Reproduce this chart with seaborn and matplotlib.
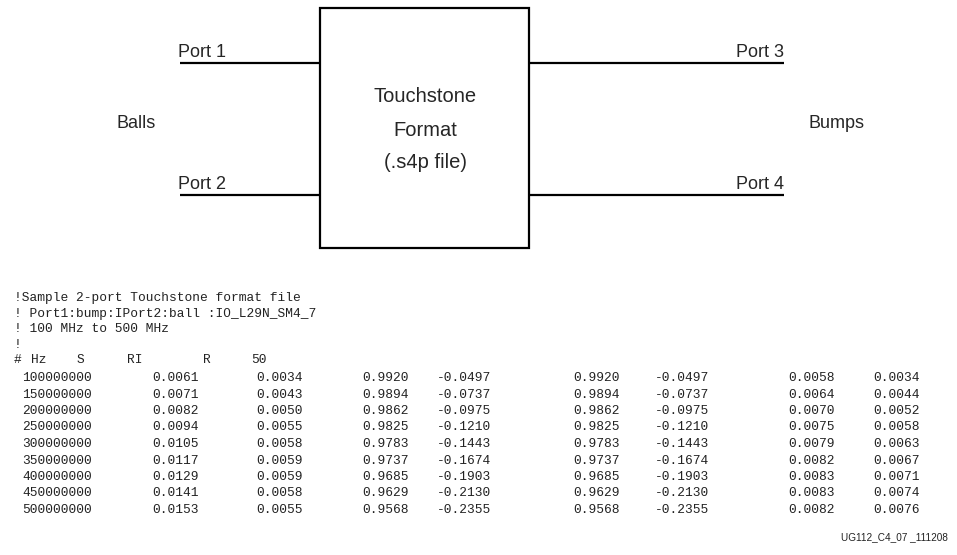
import numpy as np
import pandas as pd
import seaborn as sns
import matplotlib.pyplot as plt
from matplotlib.patches import Rectangle

# sample touchstone data (from the figure)
freq_hz = [100000000, 150000000, 200000000, 250000000, 300000000,
           350000000, 400000000, 450000000, 500000000]
s11_re = [0.0061, 0.0071, 0.0082, 0.0094, 0.0105, 0.0117, 0.0129, 0.0141, 0.0153]
s11_im = [0.0034, 0.0043, 0.0050, 0.0055, 0.0058, 0.0059, 0.0059, 0.0058, 0.0055]
s21_re = [0.9920, 0.9894, 0.9862, 0.9825, 0.9783, 0.9737, 0.9685, 0.9629, 0.9568]
s21_im = [-0.0497, -0.0737, -0.0975, -0.1210, -0.1443, -0.1674, -0.1903, -0.2130, -0.2355]
s12_re = [0.9920, 0.9894, 0.9862, 0.9825, 0.9783, 0.9737, 0.9685, 0.9629, 0.9568]
s12_im = [-0.0497, -0.0737, -0.0975, -0.1210, -0.1443, -0.1674, -0.1903, -0.2130, -0.2355]
s22_re = [0.0058, 0.0064, 0.0070, 0.0075, 0.0079, 0.0082, 0.0083, 0.0083, 0.0082]
s22_im = [0.0034, 0.0044, 0.0052, 0.0058, 0.0063, 0.0067, 0.0071, 0.0074, 0.0076]

header_lines = ["!Sample 2-port Touchstone format file",
                "! Port1:bump:IPort2:ball :IO_L29N_SM4_7",
                "! 100 MHz to 500 MHz",
                "!"]
option_tokens = ["#", "Hz", "S", "RI", "R", "50"]
port_labels = ["Port 1", "Port 2", "Port 3", "Port 4"]
box_lines = ["Touchstone", "Format", "(.s4p file)"]
fig_id = "UG112_C4_07 _111208"

df = pd.DataFrame({"freq": freq_hz, "s11_re": s11_re, "s11_im": s11_im,
                   "s21_re": s21_re, "s21_im": s21_im, "s12_re": s12_re,
                   "s12_im": s12_im, "s22_re": s22_re, "s22_im": s22_im})

sns.set_theme(style="white")
plt.rcParams['font.family'] = ['Liberation Sans', 'DejaVu Sans']

fig, ax = plt.subplots(figsize=(9.57, 5.55), dpi=100)
ax.set_position([0, 0, 1, 1])
ax.set_xlim(0, 957)
ax.set_ylim(555, 0)
ax.axis('off')

# block diagram
ax.add_patch(Rectangle((320, 8), 209, 240, fill=False, edgecolor='black', lw=1.6))
ax.hlines([63, 195], 180, 320, color='black', lw=1.6)
ax.hlines([63, 195], 529, 784, color='black', lw=1.6)
ax.text(178, 57, port_labels[0], fontsize=13, ha='left', va='baseline')
ax.text(178, 189, port_labels[1], fontsize=13, ha='left', va='baseline')
ax.text(784, 57, port_labels[2], fontsize=13, ha='right', va='baseline')
ax.text(784, 189, port_labels[3], fontsize=13, ha='right', va='baseline')
ax.text(136, 123, "Balls", fontsize=13, ha='center', va='center')
ax.text(837, 123, "Bumps", fontsize=13, ha='center', va='center')
for line, y in zip(box_lines, [97, 130, 162]):
    ax.text(425, y, line, fontsize=14.5, ha='center', va='center')

# touchstone file listing
mono = dict(family='Liberation Mono', fontsize=9.3, color='#222222')
for i, line in enumerate(header_lines):
    ax.text(14, 298 + i * 15.5, line, ha='left', va='center', **mono)
for tok, x in zip(option_tokens, [14, 31, 77, 127, 203, 251]):
    ax.text(x, 360, tok, ha='left', va='center', **mono)

col_left = [152, 256, 362, 437, 573, 655, 788, 873]
for r, row in df.iterrows():
    y = 378 + r * 16.5
    ax.text(22, y, str(int(row['freq'])), ha='left', va='center', **mono)
    for c, x in zip(df.columns[1:], col_left):
        ax.text(x, y, f"{row[c]:.4f}", ha='left', va='center', **mono)

ax.text(948, 537, fig_id, fontsize=7.2, ha='right', va='center', color='#222222')

plt.savefig('out.png', dpi=100)
